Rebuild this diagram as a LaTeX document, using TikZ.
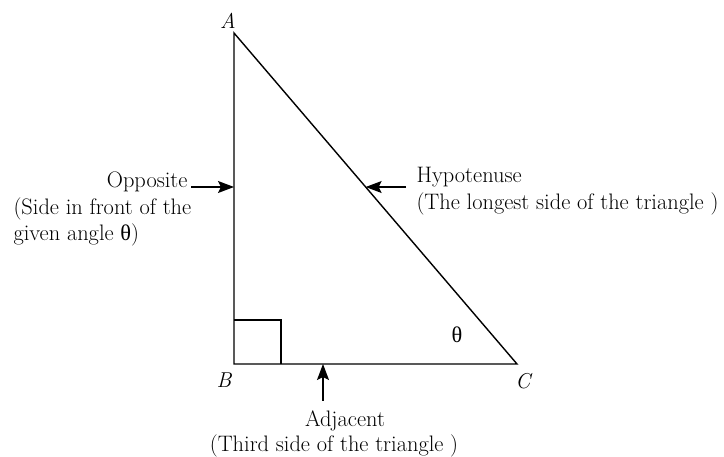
\documentclass[tikz,border=0pt]{standalone}
\usepackage{fontspec}
\newfontfamily\grk{Liberation Serif}
\usepackage{tikz}
\usetikzlibrary{arrows.meta,positioning,calc}

\begin{document}
\begin{tikzpicture}[x=1pt, y=-1pt, every node/.style={align=left, font=\fontsize{22.4}{26.3}\selectfont}]
        % styles
        \tikzstyle{side} = [line width=1.4pt, line join=miter]
        \tikzstyle{arrow} = [line width=1.2pt, -{Stealth[length=16pt, width=12pt, inset=3pt]}]
        \tikzstyle{vertex} = [font=\fontsize{21.5}{24}\selectfont\itshape]

        \useasboundingbox (0,0) rectangle (724,457);

        % vertices
        \coordinate (A) at (234,33);
        \coordinate (B) at (234,364);
        \coordinate (C) at (517,364);

        % triangle and right angle
        \draw [side] (A) -- (B) -- (C) -- cycle;
        \draw [line width=1.2pt] ($(B)+(0,-44)$) -| ($(B)+(47,0)$);

        % vertex labels
        \node (labelA) [vertex] at (228,21) {A};
        \node (labelB) [vertex] at (224,380) {B};
        \node (labelC) [vertex] at (523,381) {C};
        \node (theta) at (457,335) {\grk θ};

        % points on the sides
        \coordinate (onAB) at (234,187);
        \coordinate (onAC) at ($(A)!0.4653!(C)$);
        \coordinate (onBC) at (323,364);

        % side labels
        \node (opp) [anchor=base east] at (191,188) {Opposite};
        \node (oppnote) [anchor=base west] at (10,241) {(Side in front of the\\given angle {\grk θ})};
        \node (hyp) [anchor=base west] at (413,183) {Hypotenuse};
        \node (hypnote) [anchor=base west] at (413,210) {(The longest side of the triangle )};
        \node (adj) [anchor=base] at (345,427) {Adjacent};
        \node (adjnote) [anchor=base] at (334,452) {(Third side of the triangle )};

        % arrows
        \draw [arrow] (opp.east |- onAB) -- (onAB);
        \draw [arrow] ($(hyp.west |- onAC)+(-7,0)$) -- (onAC);
        \draw [arrow] ($(adj.north -| onBC)+(0,-7)$) -- (onBC);
    \end{tikzpicture}
\end{document}
